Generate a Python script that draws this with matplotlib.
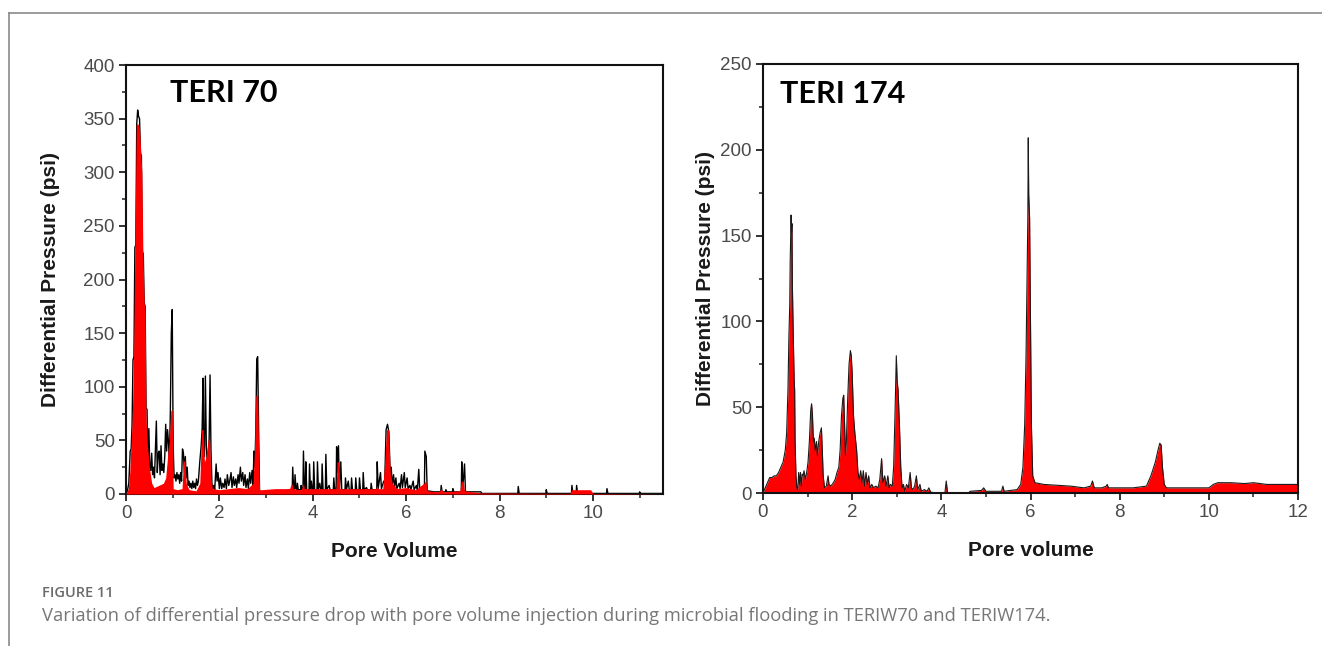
import matplotlib
matplotlib.use("Agg")
import matplotlib.pyplot as plt
from matplotlib.ticker import MultipleLocator
from matplotlib.lines import Line2D

# ---------------- data: TERI 70 (left panel) ----------------
teri70_black_x = [0.00, 0.03, 0.06, 0.09, 0.11, 0.13, 0.15, 0.17, 0.19, 0.21, 0.23, 0.25, 0.27, 0.29,
                  0.31, 0.33, 0.35, 0.37, 0.39, 0.41, 0.43, 0.45, 0.47, 0.49, 0.51, 0.53, 0.55, 0.57,
                  0.59, 0.61, 0.63, 0.65, 0.67, 0.69, 0.71, 0.73, 0.75, 0.77, 0.79, 0.81, 0.83, 0.85,
                  0.87, 0.89, 0.91, 0.93, 0.95, 0.97, 0.99, 1.01, 1.03, 1.05, 1.07, 1.09, 1.11, 1.13,
                  1.15, 1.17, 1.19, 1.21, 1.23, 1.25, 1.27, 1.29, 1.31, 1.33, 1.35, 1.37, 1.39, 1.41,
                  1.43, 1.45, 1.47, 1.49, 1.51, 1.53, 1.55, 1.58, 1.61, 1.63, 1.65, 1.66, 1.68, 1.70,
                  1.72, 1.74, 1.76, 1.78, 1.80, 1.82, 1.84, 1.86, 1.88, 1.90, 1.93, 1.95, 1.97, 2.00,
                  2.02, 2.05, 2.07, 2.10, 2.12, 2.15, 2.17, 2.20, 2.22, 2.25, 2.27, 2.30, 2.32, 2.35,
                  2.37, 2.40, 2.42, 2.45, 2.47, 2.50, 2.52, 2.55, 2.57, 2.60, 2.62, 2.65, 2.67, 2.70,
                  2.72, 2.74, 2.76, 2.78, 2.80, 2.82, 2.84, 2.86, 2.90, 3.00, 3.20, 3.40, 3.54,
                  3.56, 3.57, 3.59, 3.61, 3.62, 3.64, 3.66, 3.67, 3.69, 3.74, 3.75, 3.77, 3.79, 3.80,
                  3.82, 3.84, 3.85, 3.87, 3.92, 3.93, 3.95, 3.97, 3.99, 4.01, 4.02, 4.04, 4.09, 4.10,
                  4.12, 4.15, 4.17, 4.19, 4.20, 4.22, 4.27, 4.28, 4.30, 4.35, 4.37, 4.44, 4.45, 4.47,
                  4.50, 4.51, 4.53, 4.55, 4.57, 4.60, 4.62, 4.69, 4.70, 4.72, 4.76, 4.78, 4.82, 4.83,
                  4.85, 4.91, 4.92, 4.94, 4.99, 5.00, 5.02, 5.07, 5.08, 5.10, 5.15, 5.17, 5.24, 5.25,
                  5.27, 5.37, 5.38, 5.40, 5.45, 5.47, 5.52, 5.54, 5.57, 5.60, 5.63, 5.66, 5.68, 5.70,
                  5.73, 5.75, 5.78, 5.80, 5.85, 5.87, 5.90, 5.92, 5.96, 5.98, 6.02, 6.04, 6.08, 6.10,
                  6.15, 6.17, 6.22, 6.24, 6.27, 6.29, 6.33, 6.35, 6.39, 6.40, 6.43, 6.45, 6.60, 6.74,
                  6.75, 6.77, 6.84, 6.85, 6.87, 6.99, 7.00, 7.02, 7.18, 7.19, 7.21, 7.25, 7.27, 7.40,
                  7.60, 7.62, 8.00, 8.39, 8.40, 8.42, 8.80, 8.99, 9.00, 9.02, 9.40, 9.54, 9.55, 9.57,
                  9.64, 9.65, 9.67, 10.00, 10.29, 10.30, 10.32, 10.70, 10.99, 11.00, 11.02, 11.50]
teri70_black_y = [0, 3, 10, 40, 42, 65, 125, 128, 230, 232, 345, 358, 352, 350,
                  318, 315, 226, 224, 178, 175, 80, 79, 30, 61, 24, 22, 38, 18,
                  25, 15, 42, 68, 20, 38, 40, 18, 45, 22, 28, 20, 35, 65,
                  40, 60, 48, 30, 78, 150, 172, 45, 15, 18, 12, 20, 14, 18,
                  10, 20, 12, 42, 38, 20, 35, 15, 25, 8, 12, 6, 10, 5,
                  12, 6, 10, 5, 14, 8, 12, 30, 45, 60, 108, 40, 35, 110,
                  45, 30, 35, 50, 111, 40, 10, 5, 8, 4, 28, 12, 20, 5,
                  15, 5, 10, 6, 14, 5, 18, 8, 12, 20, 6, 16, 8, 14,
                  6, 18, 10, 25, 12, 20, 8, 18, 6, 14, 5, 20, 10, 22,
                  8, 40, 25, 60, 126, 128, 60, 3, 2, 2, 3, 3, 4,
                  4, 25, 4, 5, 18, 5, 4, 10, 4, 4, 8, 4, 4, 40,
                  4, 5, 30, 4, 4, 28, 4, 12, 4, 4, 30, 4, 4, 30,
                  4, 10, 4, 4, 28, 4, 4, 37, 4, 8, 4, 4, 15, 4,
                  4, 44, 20, 45, 5, 30, 4, 4, 15, 4, 12, 4, 4, 15,
                  4, 4, 15, 4, 4, 15, 4, 4, 20, 4, 6, 4, 4, 10,
                  4, 4, 30, 5, 20, 5, 12, 10, 60, 65, 58, 15, 25, 8,
                  18, 6, 15, 5, 10, 5, 18, 6, 20, 6, 15, 5, 8, 4,
                  12, 4, 8, 4, 23, 4, 6, 4, 4, 40, 35, 3, 2, 2,
                  8, 2, 2, 4, 2, 2, 5, 2, 2, 30, 4, 28, 2, 2,
                  2, 0.5, 0.5, 0.5, 7, 0.5, 0.5, 0.5, 4, 0.5, 0.5, 0.5, 8, 0.5,
                  0.5, 8, 0.5, 0.5, 0.5, 5, 0.5, 0.5, 0.5, 2, 0.5, 0.5]

teri70_red_x = [0.00, 0.05, 0.08, 0.10, 0.13, 0.16, 0.19, 0.22, 0.26, 0.29, 0.32, 0.34, 0.36, 0.39,
                0.41, 0.43, 0.46, 0.50, 0.55, 0.60, 0.70, 0.80, 0.85, 0.90, 0.93, 0.96, 0.99, 1.01,
                1.10, 1.20, 1.23, 1.26, 1.29, 1.35, 1.50, 1.58, 1.62, 1.65, 1.68, 1.72, 1.76, 1.79,
                1.82, 1.85, 2.00, 2.20, 2.40, 2.60, 2.72, 2.75, 2.78, 2.82, 2.84, 2.86, 2.90, 3.20,
                3.50, 3.55, 3.58, 3.75, 3.80, 3.82, 4.50, 4.52, 4.56, 4.58, 5.35, 5.38, 5.40, 5.50,
                5.54, 5.58, 5.62, 5.66, 5.70, 5.80, 6.00, 6.20, 6.38, 6.42, 6.45, 6.70, 6.75, 6.80,
                7.15, 7.18, 7.22, 7.25, 7.60, 9.50, 9.55, 9.95, 10.00, 11.50]
teri70_red_y = [0, 5, 20, 40, 65, 120, 230, 345, 345, 340, 315, 300, 230, 178,
                170, 70, 45, 25, 10, 6, 8, 10, 15, 40, 50, 78, 78, 5,
                4, 5, 30, 32, 10, 4, 3, 10, 60, 60, 30, 35, 52, 50,
                15, 5, 4, 5, 6, 5, 10, 40, 92, 92, 40, 4, 4, 5,
                5, 10, 5, 4, 10, 5, 5, 30, 30, 5, 5, 8, 5, 5,
                30, 60, 60, 20, 10, 5, 6, 4, 10, 12, 3, 2, 5, 2,
                3, 12, 12, 3, 1, 0.5, 4, 4, 0.5, 0]

# ---------------- data: TERI 174 (right panel) ----------------
teri174_x = [0.00, 0.05, 0.10, 0.15, 0.20, 0.25, 0.30, 0.35, 0.40, 0.45, 0.50, 0.53, 0.56, 0.58,
             0.60, 0.61, 0.62, 0.63, 0.64, 0.65, 0.66, 0.68, 0.70, 0.71, 0.72, 0.74, 0.76, 0.78,
             0.80, 0.82, 0.84, 0.86, 0.88, 0.90, 0.92, 0.95, 0.98, 1.01, 1.04, 1.07, 1.09, 1.11,
             1.13, 1.15, 1.17, 1.20, 1.22, 1.25, 1.28, 1.31, 1.33, 1.35, 1.38, 1.42, 1.46, 1.48,
             1.52, 1.58, 1.62, 1.66, 1.70, 1.73, 1.76, 1.79, 1.81, 1.83, 1.85, 1.87, 1.90, 1.93,
             1.96, 1.98, 2.00, 2.03, 2.06, 2.10, 2.13, 2.16, 2.19, 2.22, 2.25, 2.28, 2.31, 2.34,
             2.37, 2.40, 2.44, 2.48, 2.53, 2.58, 2.62, 2.66, 2.69, 2.73, 2.76, 2.80, 2.83, 2.86,
             2.90, 2.93, 2.96, 2.99, 3.01, 3.03, 3.06, 3.09, 3.12, 3.15, 3.18, 3.22, 3.26, 3.30,
             3.33, 3.36, 3.40, 3.44, 3.47, 3.52, 3.55, 3.62, 3.68, 3.72, 3.76, 3.90, 4.08, 4.11,
             4.14, 4.60, 4.65, 4.90, 4.95, 5.00, 5.35, 5.38, 5.41, 5.70, 5.78, 5.83, 5.87, 5.90,
             5.92, 5.94, 5.95, 5.96, 5.98, 6.00, 6.02, 6.05, 6.10, 6.30, 6.60, 6.90, 7.20, 7.35,
             7.39, 7.43, 7.60, 7.70, 7.72, 7.75, 8.00, 8.30, 8.60, 8.70, 8.80, 8.86, 8.90, 8.93,
             8.96, 9.00, 9.05, 9.50, 10.00, 10.10, 10.20, 10.50, 10.80, 11.00, 11.30, 11.60, 12.00]
teri174_y = [0, 3, 6, 9, 9, 10, 10, 12, 15, 18, 25, 35, 60, 90,
             110, 135, 150, 162, 152, 157, 120, 90, 65, 60, 30, 10, 3, 2,
             12, 5, 12, 4, 11, 10, 13, 8, 12, 18, 30, 48, 52, 45,
             30, 32, 25, 30, 22, 30, 35, 38, 25, 10, 3, 4, 10, 5,
             4, 6, 8, 12, 15, 25, 45, 55, 57, 40, 22, 30, 55, 75,
             83, 80, 70, 45, 35, 25, 12, 8, 13, 6, 13, 4, 12, 5,
             10, 3, 5, 3, 4, 3, 8, 20, 6, 10, 4, 10, 3, 5,
             4, 15, 45, 80, 65, 60, 40, 15, 3, 5, 1, 5, 3, 12,
             3, 2, 4, 10, 2, 5, 1, 2, 1, 3, 0.5, 0, 0, 7,
             0, 0, 1, 1.5, 3, 1, 1, 4, 1, 2, 5, 15, 40, 80,
             120, 160, 207, 174, 160, 100, 40, 10, 6, 5, 4.5, 4, 3, 4,
             7, 3, 3, 4, 5, 3, 3, 3, 4, 10, 18, 25, 29, 28,
             15, 5, 3, 3, 3, 5, 6, 6, 5.5, 6, 5, 5, 5]

x_label_left = "Pore Volume"
x_label_right = "Pore volume"
y_label = "Differential Pressure (psi)"
title_left = "TERI 70"
title_right = "TERI 174"
caption_head = "FIGURE 11"
caption_text = ("Variation of differential pressure drop with pore volume injection during "
                "microbial flooding in TERIW70 and TERIW174.")

# ---------------- figure ----------------
W, H = 1322, 646
fig = plt.figure(figsize=(W / 100, H / 100), dpi=100)
fig.patch.set_facecolor("white")

tick_font = dict(family="Liberation Sans", size=13.5, color="#4a4a4a")
label_font = dict(family="Liberation Sans", size=15, weight="bold", color="#1a1a1a")
title_font = dict(family="Lato", size=22, weight="bold", color="black")


def px_rect(l, t, r, b):
    return [l / W, 1 - b / H, (r - l) / W, (b - t) / H]


def style(ax, xmax, ymax, ymaj, ymin):
    ax.set_xlim(0, xmax)
    ax.set_ylim(0, ymax)
    ax.xaxis.set_major_locator(MultipleLocator(2))
    ax.xaxis.set_minor_locator(MultipleLocator(1))
    ax.yaxis.set_major_locator(MultipleLocator(ymaj))
    ax.yaxis.set_minor_locator(MultipleLocator(ymin))
    for s in ax.spines.values():
        s.set_linewidth(1.5)
        s.set_color("#111111")
    ax.tick_params(which="major", direction="out", length=5, width=1.3, color="#222222",
                   pad=3, top=False, right=False)
    ax.tick_params(which="minor", direction="out", length=3, width=1.1, color="#222222",
                   top=False, right=False)
    for lab in ax.get_xticklabels() + ax.get_yticklabels():
        lab.set_fontfamily(tick_font["family"])
        lab.set_fontsize(tick_font["size"])
        lab.set_color(tick_font["color"])


# left panel
ax1 = fig.add_axes(px_rect(126, 65, 663, 494))
ax1.plot(teri70_black_x, teri70_black_y, color="black", lw=1.0, zorder=2)
ax1.fill_between(teri70_red_x, teri70_red_y, 0, color="#ff0000", lw=0, zorder=3)
style(ax1, 11.5, 400, 50, 25)
ax1.set_xticks([0, 2, 4, 6, 8, 10])
ax1.set_xlabel(x_label_left, labelpad=14, **label_font)
ax1.set_ylabel(y_label, labelpad=17, **label_font)
ax1.text(0.082, 0.935, title_left, transform=ax1.transAxes, ha="left", va="center", **title_font)

# right panel
ax2 = fig.add_axes(px_rect(763, 64, 1298, 493))
ax2.fill_between(teri174_x, teri174_y, 0, color="#ff0000", lw=0, zorder=2)
ax2.plot(teri174_x, teri174_y, color="#1a1a1a", lw=0.8, zorder=3)
style(ax2, 12, 250, 50, 25)
ax2.set_xlabel(x_label_right, labelpad=14, **label_font)
ax2.set_ylabel(y_label, labelpad=4, **label_font)
ax2.text(0.032, 0.93, title_right, transform=ax2.transAxes, ha="left", va="center", **title_font)

# outer frame lines
fig.add_artist(Line2D([9 / W, 1.0], [1 - 13 / H, 1 - 13 / H], color="#8a8a8a", lw=1.2,
                      transform=fig.transFigure))
fig.add_artist(Line2D([9 / W, 9 / W], [1 - 13 / H, 0.0], color="#8a8a8a", lw=1.2,
                      transform=fig.transFigure))

# caption
fig.text(42 / W, 1 - 593 / H, caption_head, ha="left", va="center",
         family="Open Sans", size=10.5, weight="semibold", color="#6a6a6a")
fig.text(42 / W, 1 - 616 / H, caption_text, ha="left", va="center",
         family="Open Sans", size=13.2, color="#777777")

fig.savefig("out.png", dpi=100)
